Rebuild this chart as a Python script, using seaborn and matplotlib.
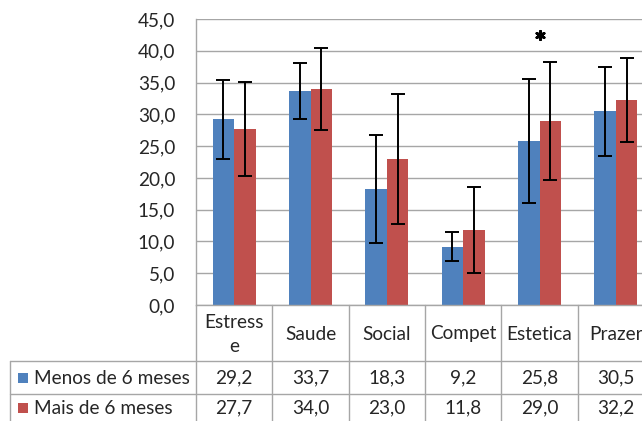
import numpy as np
import pandas as pd
import matplotlib
matplotlib.use("Agg")
import matplotlib.pyplot as plt
import matplotlib.transforms as mtransforms
from matplotlib.lines import Line2D
from matplotlib.patches import Rectangle
import seaborn as sns

# Motivation scores by training time (mean and standard deviation)
categories = ["Estresse", "Saude", "Social", "Compet", "Estetica", "Prazer"]
header_labels = ["Estress\ne", "Saude", "Social", "Compet", "Estetica", "Prazer"]
series_names = ["Menos de 6 meses", "Mais de 6 meses"]
menos_mean = [29.2, 33.7, 18.3, 9.2, 25.8, 30.5]
mais_mean = [27.7, 34.0, 23.0, 11.8, 29.0, 32.2]
menos_sd = [6.2, 4.4, 8.5, 2.3, 9.8, 7.0]
mais_sd = [7.4, 6.4, 10.2, 6.7, 9.3, 6.6]
significant = ["Estetica"]
sig_y = 42.5
yticks = [0, 5, 10, 15, 20, 25, 30, 35, 40, 45]

colors = ["#4F81BD", "#C0504D"]
grid_col = "#A6A6A6"
text_col = "#262626"
fs = 13.7

sns.set_theme(style="white")
plt.rcParams["font.family"] = ["Lato", "DejaVu Sans"]

W, H = 642, 421
fig = plt.figure(figsize=(W / 100, H / 100), dpi=100)
fig.patch.set_facecolor("white")
left_px, right_px, top_px, bot_px = 196, 654, 19, 305
ax = fig.add_axes([left_px / W, 1 - bot_px / H,
                   (right_px - left_px) / W, (bot_px - top_px) / H])

df = pd.DataFrame({
    "categoria": categories * 2,
    "serie": [series_names[0]] * len(categories) + [series_names[1]] * len(categories),
    "valor": menos_mean + mais_mean,
})
sns.barplot(data=df, x="categoria", y="valor", hue="serie", order=categories,
            hue_order=series_names, palette=colors, width=0.565, errorbar=None,
            saturation=1, linewidth=0, legend=False, ax=ax, zorder=2)

# error bars centred on each drawn bar
for container, means, sds in zip(ax.containers, [menos_mean, mais_mean], [menos_sd, mais_sd]):
    xs = [b.get_x() + b.get_width() / 2 for b in container]
    ax.errorbar(xs, means, yerr=sds, fmt="none", ecolor="black", elinewidth=1.4,
                capsize=5, capthick=1.4, zorder=3)

# significance mark
for cat in significant:
    ax.scatter([categories.index(cat)], [sig_y], marker=(6, 2, 0), s=36,
               color="black", linewidths=2.0, zorder=4)

ax.set_xlim(-0.5, len(categories) - 0.5)
ax.set_ylim(0, 45)
ax.set_yticks(yticks)
ax.set_yticklabels([f"{v:.1f}".replace(".", ",") for v in yticks])
ax.tick_params(axis="y", length=0, pad=15, labelsize=fs, labelcolor=text_col)
ax.set_xticks([])
ax.set_xlabel("")
ax.set_ylabel("")
ax.yaxis.grid(True, color=grid_col, linewidth=1.0, zorder=0)
ax.set_axisbelow(True)
for side in ["top", "right"]:
    ax.spines[side].set_visible(False)
for side in ["left", "bottom"]:
    ax.spines[side].set_color(grid_col)
    ax.spines[side].set_linewidth(1.0)

# data table underneath the plot
def fy(py):
    return 1 - py / H

def fx(px):
    return px / W

bt = mtransforms.blended_transform_factory(ax.transData, fig.transFigure)
ft = fig.transFigure
row_hdr_bottom, row1_bottom, row2_bottom = 361, 394, 427
table_left = 10

for k in range(len(categories) + 1):
    fig.add_artist(Line2D([k - 0.5, k - 0.5], [fy(bot_px), fy(row2_bottom)],
                          transform=bt, color=grid_col, lw=1.0))
for yline in [row_hdr_bottom, row1_bottom]:
    fig.add_artist(Line2D([fx(table_left), 1.0], [fy(yline), fy(yline)],
                          transform=ft, color=grid_col, lw=1.0))
fig.add_artist(Line2D([fx(table_left), fx(table_left)], [fy(row_hdr_bottom), fy(row2_bottom)],
                      transform=ft, color=grid_col, lw=1.0))

for i, lab in enumerate(header_labels):
    fig.text(i, fy(334), lab, transform=bt, ha="center", va="center",
             fontsize=fs, color=text_col, linespacing=1.5)

row_centres = [378, 408]
for values, yc in zip([menos_mean, mais_mean], row_centres):
    for i, v in enumerate(values):
        fig.text(i, fy(yc), f"{v:.1f}".replace(".", ","), transform=bt,
                 ha="center", va="center", fontsize=fs, color=text_col)

for name, col, yc in zip(series_names, colors, row_centres):
    fig.add_artist(Rectangle((fx(18), fy(yc + 5)), fx(10), 10 / H,
                             transform=ft, facecolor=col, edgecolor="none"))
    fig.text(fx(34), fy(yc), name, transform=ft, ha="left", va="center",
             fontsize=fs, color=text_col)

fig.savefig("out.png", dpi=100, facecolor="white")
